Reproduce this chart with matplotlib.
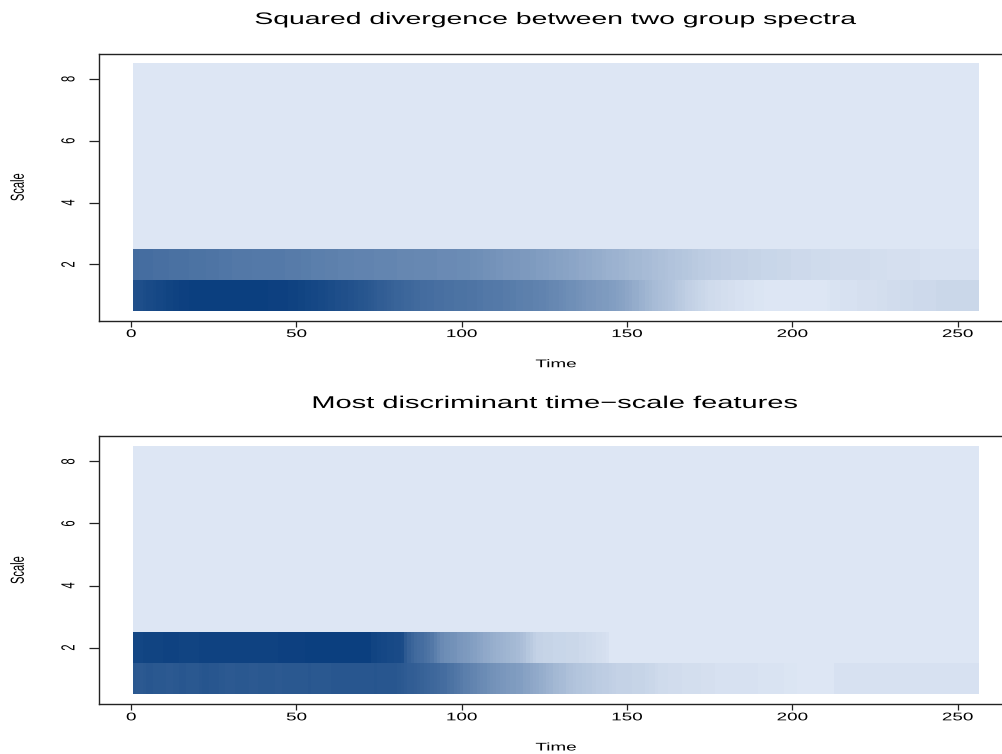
import numpy as np
import matplotlib
matplotlib.use("Agg")
import matplotlib.pyplot as plt
from matplotlib.colors import LinearSegmentedColormap
from matplotlib.patheffects import AbstractPathEffect
from matplotlib.transforms import Affine2D

# ---------------------------------------------------------------- data
times = np.arange(1, 257)          # time index 1..256
scales = np.arange(1, 9)           # scale index 1..8
x_ticks = [0, 50, 100, 150, 200, 250]
y_ticks = [2, 4, 6, 8]

# squared divergence, scale 1 (relative to maximum)
div_scale1 = [
    0.90, 0.91, 0.91, 0.92, 0.93, 0.93, 0.94, 0.95, 0.95, 0.96, 0.97, 0.97, 0.98, 0.98, 0.99, 0.99,
    0.99, 1.00, 1.00, 1.00, 1.00, 1.00, 1.00, 1.00, 1.00, 1.00, 1.00, 1.00, 1.00, 1.00, 1.00, 1.00,
    1.00, 1.00, 1.00, 1.00, 1.00, 1.00, 1.00, 1.00, 1.00, 0.99, 0.99, 0.99, 0.99, 0.99, 0.99, 0.98,
    0.98, 0.98, 0.97, 0.97, 0.96, 0.96, 0.95, 0.95, 0.94, 0.94, 0.93, 0.92, 0.92, 0.91, 0.91, 0.90,
    0.90, 0.89, 0.89, 0.88, 0.87, 0.87, 0.86, 0.85, 0.84, 0.83, 0.82, 0.82, 0.81, 0.80, 0.79, 0.78,
    0.78, 0.77, 0.76, 0.76, 0.75, 0.74, 0.74, 0.73, 0.73, 0.72, 0.72, 0.71, 0.71, 0.71, 0.70, 0.70,
    0.70, 0.69, 0.69, 0.69, 0.69, 0.68, 0.68, 0.68, 0.67, 0.67, 0.66, 0.66, 0.66, 0.65, 0.65, 0.65,
    0.64, 0.64, 0.63, 0.63, 0.62, 0.62, 0.61, 0.61, 0.61, 0.60, 0.60, 0.59, 0.59, 0.58, 0.57, 0.56,
    0.56, 0.55, 0.54, 0.53, 0.52, 0.52, 0.51, 0.50, 0.49, 0.48, 0.48, 0.47, 0.46, 0.46, 0.45, 0.45,
    0.44, 0.43, 0.42, 0.41, 0.40, 0.38, 0.37, 0.35, 0.34, 0.32, 0.31, 0.29, 0.28, 0.26, 0.25, 0.24,
    0.23, 0.22, 0.21, 0.20, 0.18, 0.17, 0.16, 0.14, 0.13, 0.12, 0.11, 0.10, 0.09, 0.08, 0.07, 0.07,
    0.06, 0.06, 0.05, 0.05, 0.04, 0.04, 0.03, 0.03, 0.03, 0.02, 0.02, 0.02, 0.01, 0.01, 0.01, 0.00,
    0.00, 0.00, 0.00, 0.00, 0.00, 0.00, 0.00, 0.00, 0.00, 0.00, 0.00, 0.00, 0.00, 0.00, 0.00, 0.00,
    0.00, 0.00, 0.01, 0.02, 0.02, 0.02, 0.03, 0.03, 0.03, 0.03, 0.03, 0.04, 0.04, 0.04, 0.04, 0.04,
    0.04, 0.05, 0.05, 0.05, 0.06, 0.06, 0.06, 0.06, 0.07, 0.07, 0.07, 0.07, 0.08, 0.08, 0.08, 0.08,
    0.08, 0.08, 0.08, 0.09, 0.09, 0.09, 0.09, 0.09, 0.09, 0.09, 0.09, 0.09, 0.09, 0.09, 0.09, 0.09,
]

# squared divergence, scale 2
div_scale2 = [
    0.73, 0.73, 0.72, 0.72, 0.72, 0.72, 0.71, 0.71, 0.71, 0.71, 0.71, 0.70, 0.70, 0.70, 0.70, 0.70,
    0.70, 0.69, 0.69, 0.69, 0.69, 0.69, 0.68, 0.68, 0.68, 0.68, 0.67, 0.67, 0.67, 0.67, 0.66, 0.66,
    0.66, 0.66, 0.66, 0.66, 0.65, 0.65, 0.65, 0.65, 0.65, 0.65, 0.65, 0.65, 0.65, 0.65, 0.64, 0.64,
    0.64, 0.64, 0.64, 0.63, 0.63, 0.63, 0.62, 0.62, 0.62, 0.62, 0.61, 0.61, 0.61, 0.61, 0.60, 0.60,
    0.60, 0.60, 0.60, 0.59, 0.59, 0.59, 0.59, 0.59, 0.59, 0.58, 0.58, 0.58, 0.58, 0.58, 0.58, 0.58,
    0.57, 0.57, 0.57, 0.57, 0.57, 0.56, 0.56, 0.56, 0.56, 0.56, 0.56, 0.56, 0.55, 0.55, 0.55, 0.55,
    0.55, 0.55, 0.54, 0.54, 0.54, 0.54, 0.53, 0.53, 0.52, 0.52, 0.51, 0.51, 0.50, 0.50, 0.49, 0.49,
    0.48, 0.48, 0.48, 0.47, 0.47, 0.46, 0.46, 0.46, 0.45, 0.45, 0.44, 0.44, 0.43, 0.43, 0.42, 0.42,
    0.41, 0.41, 0.40, 0.40, 0.39, 0.39, 0.38, 0.37, 0.37, 0.36, 0.36, 0.35, 0.34, 0.34, 0.33, 0.32,
    0.32, 0.31, 0.31, 0.30, 0.30, 0.29, 0.28, 0.28, 0.27, 0.27, 0.26, 0.26, 0.25, 0.24, 0.24, 0.23,
    0.23, 0.22, 0.21, 0.21, 0.20, 0.20, 0.19, 0.19, 0.18, 0.17, 0.17, 0.16, 0.16, 0.15, 0.15, 0.14,
    0.14, 0.14, 0.13, 0.13, 0.13, 0.12, 0.12, 0.12, 0.12, 0.12, 0.11, 0.11, 0.11, 0.11, 0.10, 0.10,
    0.10, 0.10, 0.10, 0.09, 0.09, 0.09, 0.09, 0.08, 0.08, 0.08, 0.08, 0.08, 0.08, 0.07, 0.07, 0.07,
    0.07, 0.07, 0.07, 0.06, 0.06, 0.06, 0.06, 0.06, 0.06, 0.06, 0.06, 0.06, 0.06, 0.06, 0.06, 0.05,
    0.05, 0.05, 0.05, 0.05, 0.04, 0.04, 0.04, 0.04, 0.04, 0.04, 0.04, 0.04, 0.04, 0.04, 0.03, 0.03,
    0.03, 0.03, 0.03, 0.03, 0.03, 0.03, 0.03, 0.03, 0.03, 0.03, 0.03, 0.03, 0.03, 0.03, 0.03, 0.03,
]

# discriminant features, scale 1
feat_scale1 = [
    0.85, 0.84, 0.84, 0.85, 0.86, 0.86, 0.85, 0.85, 0.85, 0.85, 0.84, 0.84, 0.85, 0.85, 0.86, 0.86,
    0.85, 0.85, 0.85, 0.85, 0.86, 0.87, 0.87, 0.86, 0.86, 0.86, 0.85, 0.85, 0.84, 0.84, 0.84, 0.85,
    0.85, 0.85, 0.85, 0.84, 0.84, 0.84, 0.85, 0.85, 0.85, 0.85, 0.85, 0.84, 0.84, 0.85, 0.85, 0.85,
    0.85, 0.85, 0.85, 0.85, 0.85, 0.86, 0.85, 0.85, 0.85, 0.85, 0.85, 0.85, 0.86, 0.86, 0.86, 0.86,
    0.86, 0.86, 0.86, 0.86, 0.86, 0.86, 0.86, 0.86, 0.86, 0.87, 0.86, 0.86, 0.86, 0.86, 0.86, 0.86,
    0.85, 0.84, 0.83, 0.82, 0.82, 0.81, 0.80, 0.79, 0.78, 0.77, 0.76, 0.75, 0.74, 0.73, 0.72, 0.70,
    0.69, 0.67, 0.66, 0.64, 0.62, 0.61, 0.59, 0.58, 0.56, 0.55, 0.54, 0.52, 0.51, 0.50, 0.49, 0.48,
    0.47, 0.46, 0.45, 0.45, 0.44, 0.43, 0.41, 0.40, 0.38, 0.37, 0.36, 0.34, 0.33, 0.31, 0.30, 0.28,
    0.27, 0.26, 0.25, 0.23, 0.22, 0.21, 0.20, 0.20, 0.19, 0.18, 0.18, 0.17, 0.16, 0.16, 0.15, 0.15,
    0.14, 0.13, 0.12, 0.12, 0.12, 0.12, 0.12, 0.11, 0.11, 0.11, 0.11, 0.10, 0.09, 0.09, 0.08, 0.07,
    0.07, 0.07, 0.06, 0.06, 0.06, 0.06, 0.05, 0.05, 0.05, 0.05, 0.05, 0.05, 0.04, 0.04, 0.04, 0.04,
    0.03, 0.03, 0.03, 0.03, 0.03, 0.03, 0.03, 0.03, 0.03, 0.03, 0.03, 0.03, 0.03, 0.02, 0.02, 0.02,
    0.02, 0.02, 0.02, 0.02, 0.02, 0.01, 0.01, 0.01, 0.01, 0.00, 0.00, 0.00, 0.00, 0.00, 0.00, 0.00,
    0.00, 0.00, 0.00, 0.00, 0.03, 0.03, 0.03, 0.03, 0.03, 0.03, 0.03, 0.03, 0.03, 0.03, 0.03, 0.03,
    0.03, 0.03, 0.03, 0.03, 0.03, 0.03, 0.03, 0.03, 0.03, 0.03, 0.03, 0.03, 0.03, 0.03, 0.03, 0.03,
    0.03, 0.03, 0.03, 0.03, 0.03, 0.03, 0.03, 0.03, 0.03, 0.03, 0.03, 0.03, 0.03, 0.03, 0.03, 0.03,
]

# discriminant features, scale 2
feat_scale2 = [
    0.96, 0.96, 0.96, 0.97, 0.97, 0.97, 0.97, 0.97, 0.97, 0.98, 0.98, 0.98, 0.98, 0.98, 0.97, 0.97,
    0.97, 0.97, 0.97, 0.97, 0.98, 0.98, 0.98, 0.98, 0.98, 0.98, 0.98, 0.98, 0.98, 0.98, 0.98, 0.98,
    0.98, 0.98, 0.98, 0.98, 0.98, 0.98, 0.98, 0.98, 0.98, 0.98, 0.98, 0.98, 0.99, 0.99, 0.99, 0.99,
    0.99, 0.99, 0.99, 0.99, 1.00, 1.00, 1.00, 1.00, 1.00, 1.00, 1.00, 1.00, 1.00, 1.00, 1.00, 1.00,
    1.00, 1.00, 1.00, 1.00, 1.00, 1.00, 1.00, 1.00, 0.97, 0.97, 0.96, 0.95, 0.95, 0.94, 0.94, 0.93,
    0.93, 0.92, 0.84, 0.80, 0.77, 0.74, 0.73, 0.72, 0.70, 0.68, 0.66, 0.62, 0.58, 0.55, 0.53, 0.52,
    0.51, 0.50, 0.48, 0.47, 0.46, 0.45, 0.43, 0.42, 0.40, 0.39, 0.37, 0.36, 0.34, 0.33, 0.32, 0.31,
    0.30, 0.29, 0.28, 0.27, 0.26, 0.24, 0.22, 0.19, 0.17, 0.14, 0.12, 0.12, 0.11, 0.11, 0.11, 0.10,
    0.10, 0.10, 0.10, 0.09, 0.09, 0.09, 0.09, 0.08, 0.08, 0.07, 0.07, 0.06, 0.05, 0.05, 0.04, 0.03,
    0.00, 0.00, 0.00, 0.00, 0.00, 0.00, 0.00, 0.00, 0.00, 0.00, 0.00, 0.00, 0.00, 0.00, 0.00, 0.00,
    0.00, 0.00, 0.00, 0.00, 0.00, 0.00, 0.00, 0.00, 0.00, 0.00, 0.00, 0.00, 0.00, 0.00, 0.00, 0.00,
    0.00, 0.00, 0.00, 0.00, 0.00, 0.00, 0.00, 0.00, 0.00, 0.00, 0.00, 0.00, 0.00, 0.00, 0.00, 0.00,
    0.00, 0.00, 0.00, 0.00, 0.00, 0.00, 0.00, 0.00, 0.00, 0.00, 0.00, 0.00, 0.00, 0.00, 0.00, 0.00,
    0.00, 0.00, 0.00, 0.00, 0.00, 0.00, 0.00, 0.00, 0.00, 0.00, 0.00, 0.00, 0.00, 0.00, 0.00, 0.00,
    0.00, 0.00, 0.00, 0.00, 0.00, 0.00, 0.00, 0.00, 0.00, 0.00, 0.00, 0.00, 0.00, 0.00, 0.00, 0.00,
    0.00, 0.00, 0.00, 0.00, 0.00, 0.00, 0.00, 0.00, 0.00, 0.00, 0.00, 0.00, 0.00, 0.00, 0.00, 0.00,
]

titles = ["Squared divergence between two group spectra",
          "Most discriminant time\u2212scale features"]
title_sizes = [12.0, 12.3]
x_label = "Time"
y_label = "Scale"


# ---------------------------------------------------------------- helpers
class WideText(AbstractPathEffect):
    """Stretch a text path horizontally about its own centre."""

    def __init__(self, sx):
        super().__init__()
        self.sx = sx

    def draw_path(self, renderer, gc, tpath, affine, rgbFace=None):
        ext = tpath.get_extents(affine)
        cx = 0.5 * (ext.x0 + ext.x1)
        aff = affine + Affine2D().translate(-cx, 0).scale(self.sx, 1.0).translate(cx, 0)
        renderer.draw_path(gc, tpath, aff, rgbFace)


SX = 1.7
wide = [WideText(SX)]

plt.rcParams["font.family"] = ["Liberation Sans", "DejaVu Sans"]

cmap = LinearSegmentedColormap.from_list("blues_ramp", ["#DDE6F4", "#0B3F7F"])

W, H = 1003, 754
fig = plt.figure(figsize=(W / 100, H / 100), dpi=100)
fig.patch.set_facecolor("white")


def px_box(left, top, right, bottom):
    return [left / W, 1 - bottom / H, (right - left) / W, (bottom - top) / H]


panels = [
    (px_box(99, 53.5, 1013, 320.7), div_scale1, div_scale2, 19.5),
    (px_box(99, 436, 1013, 704), feat_scale1, feat_scale2, 403.5),
]

x_edges = np.append(times - 0.5, times[-1] + 0.5)
y_edges = np.append(scales - 0.5, scales[-1] + 0.5)

for k, (rect, s1, s2, title_y) in enumerate(panels):
    ax = fig.add_axes(rect)
    z = np.zeros((len(scales), len(times)))
    z[0, :] = s1
    z[1, :] = s2
    ax.pcolormesh(x_edges, y_edges, z, cmap=cmap, vmin=z.min(), vmax=z.max(),
                  shading="flat", antialiased=False, linewidth=0)

    span_x = x_edges[-1] - x_edges[0]
    span_y = y_edges[-1] - y_edges[0]
    ax.set_xlim(x_edges[0] - 0.04 * span_x, x_edges[-1] + 0.04 * span_x)
    ax.set_ylim(y_edges[0] - 0.04 * span_y, y_edges[-1] + 0.04 * span_y)

    for sp in ax.spines.values():
        sp.set_color("#222222")
        sp.set_linewidth(1.0)
    ax.spines["right"].set_visible(False)

    ax.set_xticks(x_ticks)
    ax.set_yticks(y_ticks)
    ax.tick_params(axis="x", direction="out", length=4, width=0.9, pad=2,
                   labelsize=8, colors="#222222", labelcolor="black")
    ax.tick_params(axis="y", direction="out", length=7.2, width=0.9, pad=11,
                   labelsize=8, colors="#222222", labelcolor="black",
                   labelrotation=90)
    for lbl in ax.get_yticklabels():
        lbl.set_verticalalignment("center")
        lbl.set_path_effects(wide)
    for lbl in ax.get_xticklabels():
        lbl.set_path_effects(wide)

    top_px = H * (1 - rect[1] - rect[3])
    bot_px = H * (1 - rect[1])
    mid_px = 0.5 * (top_px + bot_px)

    fig.text(556 / W, 1 - title_y / H, titles[k],
             ha="center", va="center", fontsize=title_sizes[k], path_effects=wide)
    fig.text(556 / W, 1 - (bot_px + 43.5) / H, x_label, ha="center", va="center",
             fontsize=8, path_effects=wide)
    fig.text(18 / W, 1 - mid_px / H, y_label, ha="center", va="center",
             rotation=90, fontsize=8, path_effects=wide)

fig.savefig("out.png", dpi=100)
